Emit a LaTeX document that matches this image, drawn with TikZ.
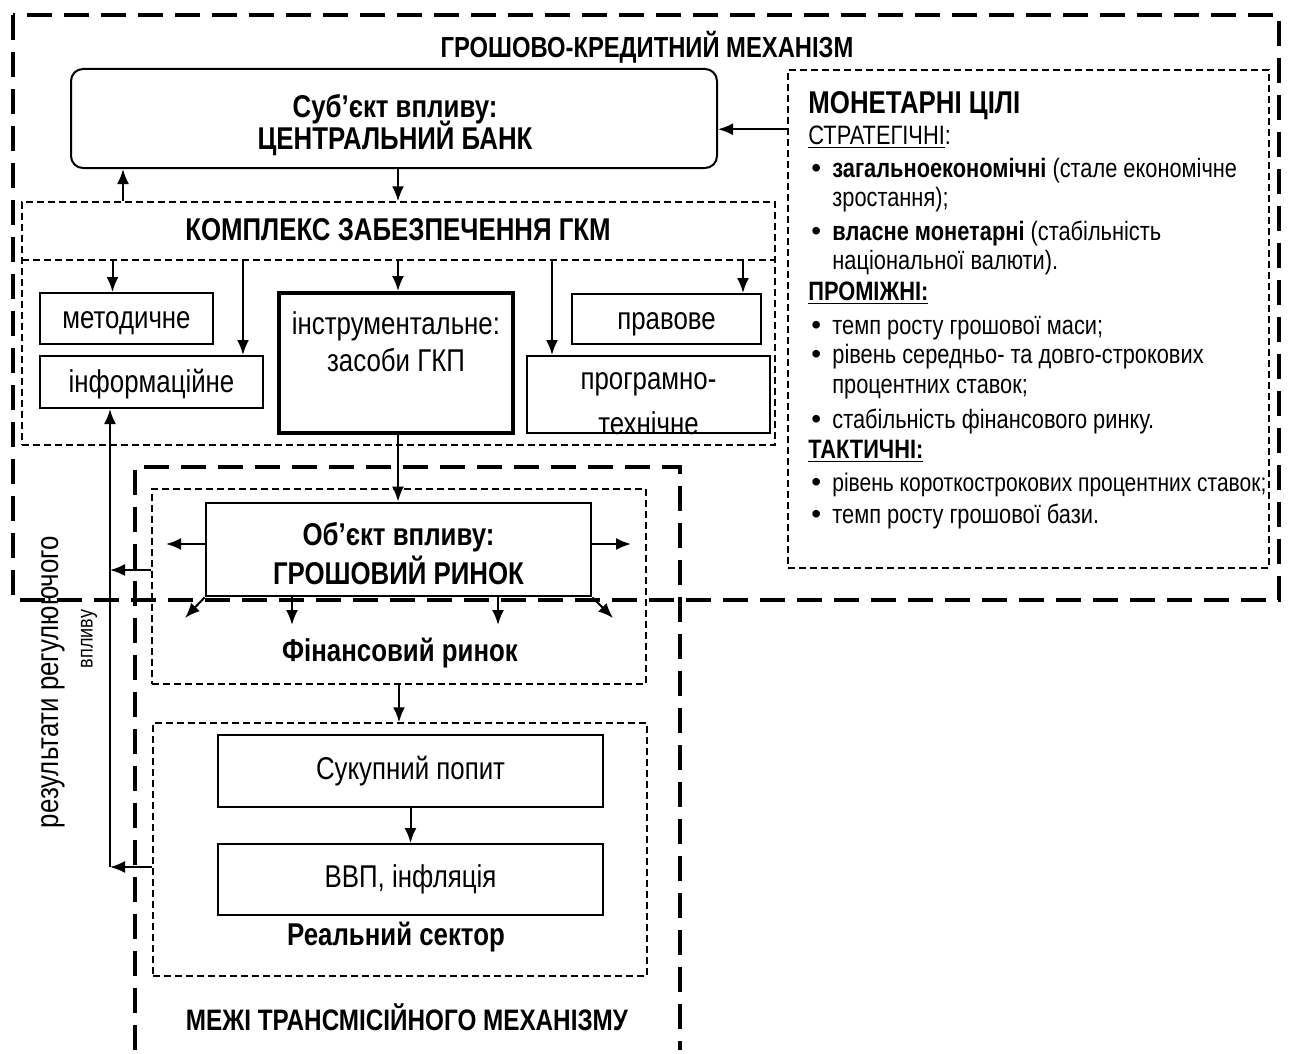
\documentclass[tikz,border=0pt]{standalone}
\usepackage{fontspec}
\setmainfont{Liberation Sans}[FakeStretch=0.82]
\newfontfamily\dotfont{Liberation Sans}
\usetikzlibrary{positioning,arrows.meta}
\tikzset{%
  gkmframe/.style={line width=2.3pt,dash pattern=on 12.5pt off 6pt},
  zone/.style={draw,line width=0.75pt,dash pattern=on 3.5pt off 2pt,inner sep=0pt},
  box/.style={draw,line width=1pt,inner sep=0pt,align=center,
    font=\fontsize{15.75}{18.5}\selectfont},
  low/.style={text height=13pt,text depth=3pt},
  mainbox/.style={box,line width=1.4pt},
  boxtext/.style={align=center,inner sep=0pt,font=\fontsize{15.75}{18.5}\selectfont},
  head/.style={font=\bfseries\fontsize{15.75}{18}\selectfont},
  arr/.style={-{Latex[length=7.5pt,width=6pt]},line width=1pt}
}
\newcommand\gbul{\hspace*{1.5pt}\makebox[10.5pt][l]{\dotfont\fontsize{14}{14}\selectfont\textbullet}}
\newcommand\gind{\hspace*{12pt}}
\newcommand\tightlines{\setlength{\lineskiplimit}{-10pt}}

\begin{document}
\begin{tikzpicture}[x=0.5pt,y=-0.5pt]
  \useasboundingbox (0,0) rectangle (1290,1054);
  % frames
  \draw[gkmframe] (13,15) rectangle (1279,600);
  \draw[gkmframe] (135,1050) -- (135,467) -- (680,467) -- (680,1050);
  \node[font=\bfseries\fontsize{14.5}{17}\selectfont] (gkmtitle) at (647,47) {ГРОШОВО-КРЕДИТНИЙ МЕХАНІЗМ};

  % subject
  \node[box,rounded corners=6pt,minimum width=323pt,minimum height=49.5pt] (cb) at (394,118.5) {};
  \node[boxtext,font=\bfseries\fontsize{15.75}{15.75}\selectfont\tightlines] (cblbl) at (395,125)
    {Суб’єкт впливу:\\ЦЕНТРАЛЬНИЙ БАНК};

  % goals
  \node[zone,minimum width=240.5pt,minimum height=249pt] (goals) at (1028.5,319) {};
  \node[anchor=north west,align=left,inner sep=0pt,
        font=\fontsize{13.3}{14.5}\selectfont] (goalstxt) at (808,91)
    {{\bfseries\fontsize{15.75}{17}\selectfont МОНЕТАРНІ ЦІЛІ}\\[1pt]
     \underline{СТРАТЕГІЧНІ}:\\[2pt]
     \gbul\textbf{загальноекономічні} (стале економічне\\
     \gind зростання);\\[2.5pt]
     \gbul\textbf{власне монетарні} (стабільність\\
     \gind національної валюти).\\[1pt]
     \textbf{\underline{ПРОМІЖНІ:}}\\[2.5pt]
     \gbul темп росту грошової маси;\\
     \gbul рівень середньо- та довго-строкових\\[0.5pt]
     \gind процентних ставок;\\[3pt]
     \gbul стабільність фінансового ринку.\\[0.5pt]
     \textbf{\underline{ТАКТИЧНІ:}}\\[2pt]
     \gbul {\fontsize{12.8}{14.5}\selectfont рівень короткострокових процентних ставок;}\\[1.5pt]
     \gbul темп росту грошової бази.};
  \coordinate[below=30pt of goals.north west] (goalsout);
  \draw[arr] (goalsout) -- (goalsout -| cb.east);

  % complex
  \node[zone,minimum width=376.5pt,minimum height=121.5pt] (kompl) at (398.5,323.5) {};
  \node[head] (kompltitle) at (398,230) {КОМПЛЕКС ЗАБЕЗПЕЧЕННЯ ГКМ};
  \coordinate (kln) at (22,260);
  \draw[zone] (kln) -- (kln -| kompl.east);
  \node[box,low,minimum width=86.5pt,minimum height=25.5pt] (metod) at (126.5,318.5) {методичне};
  \node[box,low,minimum width=111.5pt,minimum height=26pt] (inform) at (151.5,382) {інформаційне};
  \node[box,line width=2pt,minimum width=117pt,minimum height=70pt] (instr) at (396,363) {};
  \node[boxtext] (instrlbl) at (396,341.5) {інструментальне:\\засоби ГКП};
  \node[box,low,minimum width=94.5pt,minimum height=25pt] (pravove) at (666.5,319) {правове};
  \node[box,minimum width=121.5pt,minimum height=38.5pt] (progr) at (648.5,394.5) {};
  \node[boxtext] (progrlbl) at (648.5,404) {програмно-\\[4pt]технічне};

  \coordinate[right=2pt of cb.south] (cbdown);
  \coordinate[left=135.5pt of cb.south] (cbup);
  \draw[arr] (cbdown) -- (cbdown |- kompl.north);
  \draw[arr] (cbup |- kompl.north) -- (cbup);

  \coordinate[left=7pt of metod.north] (tmetod);
  \coordinate[right=45.75pt of inform.north] (tinform);
  \coordinate[right=1pt of instr.north] (tinstr);
  \coordinate[left=48.25pt of progr.north] (tprogr);
  \coordinate[right=38.25pt of pravove.north] (tpravove);
  \foreach \t in {tmetod,tinform,tinstr,tprogr,tpravove}
    \draw[arr] (\t |- kln) -- (\t);

  % transmission
  \node[zone,minimum width=247pt,minimum height=97.5pt] (fin) at (399,586.5) {};
  \node[mainbox,minimum width=192.5pt,minimum height=46.5pt] (gr) at (398.5,549.5) {};
  \node[boxtext,font=\bfseries\fontsize{15.75}{19.5}\selectfont] (grlbl) at (398.5,554)
    {Об’єкт впливу:\\ГРОШОВИЙ РИНОК};
  \node[head] (finlbl) at (400,653) {Фінансовий ринок};
  \node[zone,minimum width=247pt,minimum height=126.5pt] (real) at (400,849.5) {};
  \node[box,minimum width=192.5pt,minimum height=36pt] (sp) at (410.5,771) {Сукупний попит};
  \node[box,minimum width=192.5pt,minimum height=35.5pt] (vvp) at (410.5,879.5) {ВВП, інфляція};
  \node[head] (reallbl) at (396,937) {Реальний сектор};
  \node[font=\bfseries\fontsize{14.8}{17}\selectfont] (mezhi) at (407,1017)
    {МЕЖІ ТРАНСМІСІЙНОГО МЕХАНІЗМУ};

  \draw[arr] (tinstr |- instr.south) -- (tinstr |- gr.north);
  \coordinate (grw) at (166,544);
  \coordinate (gre) at (631,544);
  \coordinate (gsw) at (185,618);
  \coordinate (gse) at (613,618);
  \coordinate (gs1) at (292,625);
  \coordinate (gs2) at (498,625);
  \draw[arr] (gr.west |- grw) -- (grw);
  \draw[arr] (gr.east |- gre) -- (gre);
  \draw[arr] (gr.south west) -- (gsw);
  \draw[arr] (gr.south east) -- (gse);
  \foreach \t in {gs1,gs2}
    \draw[arr] (\t |- gr.south) -- (\t);
  \draw[arr] (fin.south) -- (fin.south |- real.north);
  \draw[arr] (sp.south) -- (vvp.north);

  % feedback
  \coordinate (fbfin) at (110,570);
  \coordinate (fbreal) at (110,867);
  \draw[arr] (fin.west |- fbfin) -- (fbfin);
  \draw[arr] (real.west |- fbreal) -- (fbreal);
  \draw[arr] (fbreal) -- (fbreal |- inform.south);
  \node[rotate=90,font=\fontsize{15.75}{18}\selectfont] (reslbl) at (53,682) {результати регулюючого};
  \node[rotate=90,font=\fontsize{11}{13}\selectfont] (vplyvlbl) at (89,639) {впливу};
\end{tikzpicture}
\end{document}
